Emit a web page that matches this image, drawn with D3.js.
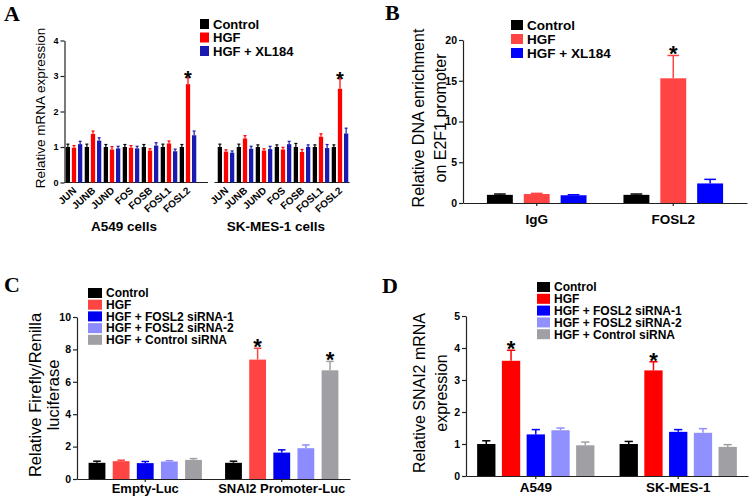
<!DOCTYPE html>
<html><head><meta charset="utf-8">
<script src="https://cdn.jsdelivr.net/npm/d3@7"></script>
<style>
html,body{margin:0;padding:0;background:#fff;}
svg{display:block;}
</style></head><body>
<svg id="chart" width="753" height="501"></svg>
<script>
// ---------- Panel A data ----------
const genesA = ["JUN","JUNB","JUND","FOS","FOSB","FOSL1","FOSL2"];
const cellLinesA = ["A549 cells","SK-MES-1 cells"];
const seriesA = ["Control","HGF","HGF + XL184"];
const a549ControlA = [1.00,1.00,1.00,1.00,1.00,1.00,1.00];
const a549HgfA     = [0.98,1.37,0.93,0.98,0.90,1.10,2.77];
const a549Xl184A   = [1.08,1.18,0.96,0.96,1.04,0.88,1.33];
const a549ControlErrA = [0.08,0.08,0.07,0.07,0.07,0.08,0.07];
const a549HgfErrA     = [0.06,0.08,0.08,0.06,0.05,0.07,0.18];
const a549Xl184ErrA   = [0.08,0.08,0.06,0.06,0.08,0.06,0.12];
const skControlA = [1.00,1.00,1.00,1.00,1.00,1.00,1.00];
const skHgfA     = [0.87,1.24,0.90,0.93,0.86,1.29,2.64];
const skXl184A   = [0.84,0.95,0.94,1.08,1.00,0.97,1.38];
const skControlErrA = [0.08,0.08,0.06,0.06,0.10,0.06,0.06];
const skHgfErrA     = [0.05,0.08,0.05,0.06,0.07,0.08,0.28];
const skXl184ErrA   = [0.05,0.07,0.08,0.08,0.06,0.10,0.15];
const yTicksA = [0,1,2,3,4];
const starsA = [["A549 cells","FOSL2"],["SK-MES-1 cells","FOSL2"]];

// ---------- Panel B data ----------
const groupsB = ["IgG","FOSL2"];
const seriesB = ["Control","HGF","HGF + XL184"];
const controlB = [1.00,1.00];
const hgfB     = [1.10,15.3];
const xl184B   = [0.95,2.40];
const controlErrB = [0.10,0.10];
const hgfErrB     = [0.08,2.80];
const xl184ErrB   = [0.06,0.50];
const yTicksB = [0,5,10,15,20];

// ---------- Panel C data ----------
const groupsC = ["Empty-Luc","SNAI2 Promoter-Luc"];
const seriesC = ["Control","HGF","HGF + FOSL2 siRNA-1","HGF + FOSL2 siRNA-2","HGF + Control siRNA"];
const controlC = [1.00,1.00];
const hgfC     = [1.10,7.37];
const si1C     = [0.98,1.63];
const si2C     = [1.08,1.90];
const ctrlSiC  = [1.18,6.71];
const controlErrC = [0.10,0.10];
const hgfErrC     = [0.06,0.70];
const si1ErrC     = [0.10,0.17];
const si2ErrC     = [0.05,0.20];
const ctrlSiErrC  = [0.08,0.55];
const yTicksC = [0,2,4,6,8,10];

// ---------- Panel D data ----------
const groupsD = ["A549","SK-MES-1"];
const seriesD = ["Control","HGF","HGF + FOSL2 siRNA-1","HGF + FOSL2 siRNA-2","HGF + Control siRNA"];
const controlD = [1.00,1.00];
const hgfD     = [3.60,3.30];
const si1D     = [1.30,1.38];
const si2D     = [1.43,1.35];
const ctrlSiD  = [0.96,0.91];
const controlErrD = [0.10,0.08];
const hgfErrD     = [0.33,0.27];
const si1ErrD     = [0.15,0.07];
const si2ErrD     = [0.07,0.13];
const ctrlSiErrD  = [0.10,0.07];
const yTicksD = [0,1,2,3,4,5];

// ---------- styles ----------
const FONT = "'Liberation Sans', Arial, Helvetica, sans-serif";
const SERIF = "'Liberation Serif', 'Times New Roman', serif";
const colorsA = ["#000000","#ff0000","#1a1ab0"];
const colorsB = ["#000000","#ff4444","#0000ff"];
const colorsC = ["#000000","#ff4444","#0000ee","#8c8cff","#a0a0a4"];
const colorsD = ["#000000","#ff0000","#0000ff","#9090ff","#a0a0a4"];
const AX = "#222";

const svg = d3.select("#chart");

function yAxis(g, y, ticks, x0, fs) {
  const a = g.append("g").attr("transform", `translate(${x0},0)`)
    .call(d3.axisLeft(y).tickValues(ticks).tickFormat(d3.format("d")).tickSize(4).tickSizeOuter(0).tickPadding(2));
  a.select(".domain").attr("stroke", AX).attr("stroke-width", 1.2);
  a.selectAll(".tick line").attr("stroke", AX).attr("stroke-width", 1.2);
  a.selectAll(".tick text").attr("fill", "#000").style("font-size", fs + "px")
    .style("font-weight", "bold").style("font-family", FONT);
}
function xAxis(g, x, y0, fs, labelY) {
  const a = g.append("g").attr("transform", `translate(0,${y0})`)
    .call(d3.axisBottom(x).tickSize(3).tickSizeOuter(0));
  a.select(".domain").attr("stroke", AX).attr("stroke-width", 1.2);
  a.selectAll(".tick line").attr("stroke", AX).attr("stroke-width", 1.2);
  a.selectAll(".tick text").attr("fill", "#000").attr("y", labelY).attr("dy", 0)
    .style("font-size", fs + "px").style("font-weight", "bold").style("font-family", FONT);
}
function bars(g, groups, series, values, errs, colors, x, xi, y, sw, capFrac) {
  series.forEach((s, si) => groups.forEach((grp, gi) => {
    const v = values[si][gi], e = errs[si][gi];
    const bx = x(grp) + xi(s), bw = xi.bandwidth(), cx = bx + bw / 2;
    g.append("rect").attr("x", bx).attr("y", y(v)).attr("width", bw)
      .attr("height", y(0) - y(v)).attr("fill", colors[si]);
    g.append("line").attr("x1", cx).attr("x2", cx).attr("y1", y(v)).attr("y2", y(v + e))
      .attr("stroke", colors[si]).attr("stroke-width", sw);
    const cw = bw * capFrac;
    g.append("line").attr("x1", cx - cw / 2).attr("x2", cx + cw / 2).attr("y1", y(v + e)).attr("y2", y(v + e))
      .attr("stroke", colors[si]).attr("stroke-width", sw);
  }));
}
function star(g, cx, yTop, fs, off) {
  g.append("text").attr("x", cx).attr("y", yTop + off).attr("text-anchor", "middle")
    .style("font-family", FONT).style("font-size", fs + "px").style("font-weight", "bold").text("*");
}
function legend(g, series, colors, x, y0, dy, w, h, fs) {
  series.forEach((s, i) => {
    const cy = y0 + i * dy;
    g.append("rect").attr("x", x).attr("y", cy - h / 2).attr("width", w).attr("height", h).attr("fill", colors[i]);
    g.append("text").attr("x", x + w + 4).attr("y", cy + fs * 0.36)
      .style("font-family", FONT).style("font-size", fs + "px").style("font-weight", "bold").text(s);
  });
}
function yLabel(g, lines, xs, yc, fs) {
  lines.forEach((t, i) => {
    g.append("text").attr("transform", `translate(${xs[i]},${yc}) rotate(-90)`)
      .attr("text-anchor", "middle").attr("dy", "0.35em")
      .style("font-family", FONT).style("font-size", fs + "px").text(t);
  });
}
function panelLetter(g, t, x, y) {
  g.append("text").attr("x", x).attr("y", y).style("font-family", SERIF)
    .style("font-size", "22px").style("font-weight", "bold").text(t);
}

// ================= Panel A =================
(function () {
  const g = svg.append("g");
  const slots = [...genesA.map(d => cellLinesA[0] + "|" + d), "gap", ...genesA.map(d => cellLinesA[1] + "|" + d)];
  const x = d3.scaleBand().domain(slots).range([64.5, 349.5]).padding(0);
  const xi = d3.scaleBand().domain(seriesA).range([0, x.bandwidth()]).paddingInner(0.3).paddingOuter(0.2);
  const y = d3.scaleLinear().domain([0, 4]).range([182.5, 40.5]);
  const vals = {
    [cellLinesA[0]]: [[a549ControlA, a549HgfA, a549Xl184A], [a549ControlErrA, a549HgfErrA, a549Xl184ErrA]],
    [cellLinesA[1]]: [[skControlA, skHgfA, skXl184A], [skControlErrA, skHgfErrA, skXl184ErrA]]
  };
  yAxis(g, y, yTicksA, 64.5, 9);
  const gx0 = x("gap");
  g.append("line").attr("x1", 64.5).attr("x2", gx0 + 10.5).attr("y1", y(0)).attr("y2", y(0)).attr("stroke", AX).attr("stroke-width", 1.2);
  g.append("line").attr("x1", gx0 + x.bandwidth() - 2).attr("x2", 349.5).attr("y1", y(0)).attr("y2", y(0)).attr("stroke", AX).attr("stroke-width", 1.2);
  cellLinesA.forEach(cl => {
    const gk = genesA.map(d => cl + "|" + d);
    bars(g, gk, seriesA, vals[cl][0], vals[cl][1], colorsA, x, xi, y, 1.2, 0.7);
    gk.forEach((k, i) => {
      g.append("text").attr("transform", `translate(${x(k) + x.bandwidth() / 2 + 3},${y(0) + 9}) rotate(-42)`)
        .attr("text-anchor", "end").style("font-family", FONT).style("font-size", "10px")
        .style("font-weight", "bold").text(genesA[i]);
    });
    const c0 = x(gk[0]), c1 = x(gk[gk.length - 1]) + x.bandwidth();
    g.append("text").attr("x", (c0 + c1) / 2 - 7).attr("y", 231).attr("text-anchor", "middle")
      .style("font-family", FONT).style("font-size", "13.5px").style("font-weight", "bold").text(cl);
  });
  starsA.forEach(([cl, gene]) => {
    const k = cl + "|" + gene, gi = genesA.indexOf(gene);
    const v = vals[cl][0][1][gi] + vals[cl][1][1][gi];
    star(g, x(k) + xi(seriesA[1]) + xi.bandwidth() / 2, y(v), 20, 7);
  });
  yLabel(g, ["Relative mRNA expression"], [40], 108, 13.5);
  legend(g, seriesA, colorsA, 200, 24, 13.5, 9, 10, 13);
  panelLetter(g, "A", 4, 21);
})();

// ================= Panel B =================
(function () {
  const g = svg.append("g");
  const x = d3.scaleBand().domain(groupsB).range([463, 747]).paddingInner(0.15).paddingOuter(0.115);
  const xi = d3.scaleBand().domain(seriesB).range([0, x.bandwidth()]).paddingInner(0.297).paddingOuter(0.223);
  const y = d3.scaleLinear().domain([0, 20]).range([203, 40]);
  yAxis(g, y, yTicksB, 463, 10.5);
  xAxis(g, x, y(0), 13.5, 21);
  bars(g, groupsB, seriesB, [controlB, hgfB, xl184B], [controlErrB, hgfErrB, xl184ErrB], colorsB, x, xi, y, 1.5, 0.45);
  star(g, x("FOSL2") + xi("HGF") + xi.bandwidth() / 2, y(hgfB[1] + hgfErrB[1]), 22, 6);
  yLabel(g, ["Relative DNA enrichment", "on E2F1 promoter"], [418, 440], 118, 16);
  legend(g, seriesB, colorsB, 511, 25, 14, 12, 10, 13.5);
  panelLetter(g, "B", 385, 20);
})();

// ================= Panel C =================
(function () {
  const g = svg.append("g");
  const x = d3.scaleBand().domain(groupsC).range([77, 350]).paddingInner(0.1).paddingOuter(0.05);
  const xi = d3.scaleBand().domain(seriesC).range([0, x.bandwidth()]).paddingInner(0.303).paddingOuter(0.197);
  const y = d3.scaleLinear().domain([0, 10]).range([479, 317]);
  yAxis(g, y, yTicksC, 77, 10.5);
  xAxis(g, x, y(0), 13, 14);
  bars(g, groupsC, seriesC, [controlC, hgfC, si1C, si2C, ctrlSiC],
    [controlErrC, hgfErrC, si1ErrC, si2ErrC, ctrlSiErrC], colorsC, x, xi, y, 1.5, 0.45);
  star(g, x(groupsC[1]) + xi(seriesC[1]) + xi.bandwidth() / 2, y(hgfC[1] + hgfErrC[1]), 22, 6);
  star(g, x(groupsC[1]) + xi(seriesC[4]) + xi.bandwidth() / 2, y(ctrlSiC[1] + ctrlSiErrC[1]), 22, 6);
  yLabel(g, ["Relative Firefly/Renilla", "luciferase"], [35, 53], 395, 16.5);
  legend(g, seriesC, colorsC, 88, 293, 11.7, 14, 10, 12);
  panelLetter(g, "C", 4, 292);
})();

// ================= Panel D =================
(function () {
  const g = svg.append("g");
  const x = d3.scaleBand().domain(groupsD).range([466, 748]).paddingInner(0.1).paddingOuter(0.04);
  const xi = d3.scaleBand().domain(seriesD).range([0, x.bandwidth()]).paddingInner(0.26).paddingOuter(0.22);
  const y = d3.scaleLinear().domain([0, 5]).range([476, 316]);
  yAxis(g, y, yTicksD, 466, 10.5);
  xAxis(g, x, y(0), 13.5, 16);
  bars(g, groupsD, seriesD, [controlD, hgfD, si1D, si2D, ctrlSiD],
    [controlErrD, hgfErrD, si1ErrD, si2ErrD, ctrlSiErrD], colorsD, x, xi, y, 1.5, 0.45);
  groupsD.forEach((grp, gi) =>
    star(g, x(grp) + xi(seriesD[1]) + xi.bandwidth() / 2, y(hgfD[gi] + hgfErrD[gi]), 22, 6));
  yLabel(g, ["Relative SNAI2 mRNA", "expression"], [419, 441], 393, 16);
  legend(g, seriesD, colorsD, 537, 287, 11.8, 13, 10, 12);
  panelLetter(g, "D", 382, 293);
})();
</script>
</body></html>
